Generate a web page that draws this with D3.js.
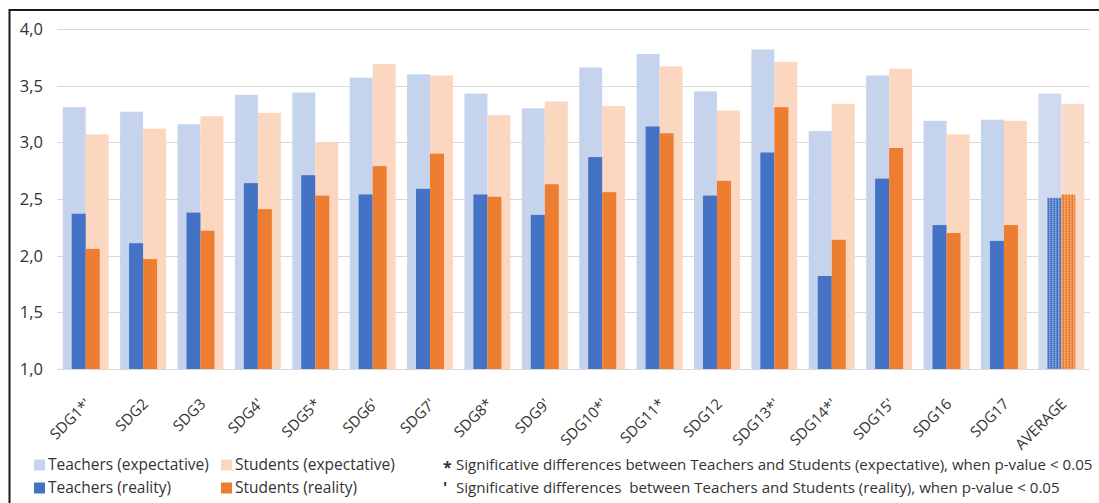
<!DOCTYPE html>
<html>
<head>
<meta charset="utf-8">
<script src="https://cdn.jsdelivr.net/npm/d3@7"></script>
<style>
  html, body { margin: 0; padding: 0; background: #fff; }
  svg { display: block; }
  text { font-family: "Open Sans", "Noto Sans", sans-serif; fill: #333; }
</style>
</head>
<body>
<svg id="chart" width="1099" height="503"></svg>
<script>
// SDG perception scores: expected vs. perceived reality, teachers and students
const categories = ["SDG1*'", "SDG2", "SDG3", "SDG4'", "SDG5*", "SDG6'", "SDG7'", "SDG8*", "SDG9'",
  "SDG10*'", "SDG11*", "SDG12", "SDG13*'", "SDG14*'", "SDG15'", "SDG16", "SDG17", "AVERAGE"];
const teachersExpectative = [3.31, 3.27, 3.16, 3.42, 3.44, 3.57, 3.60, 3.43, 3.30, 3.66, 3.78, 3.45, 3.82, 3.10, 3.59, 3.19, 3.20, 3.43];
const studentsExpectative = [3.07, 3.12, 3.23, 3.26, 3.00, 3.69, 3.59, 3.24, 3.36, 3.32, 3.67, 3.28, 3.71, 3.34, 3.65, 3.07, 3.19, 3.34];
const teachersReality     = [2.37, 2.11, 2.38, 2.64, 2.71, 2.54, 2.59, 2.54, 2.36, 2.87, 3.14, 2.53, 2.91, 1.82, 2.68, 2.27, 2.13, 2.51];
const studentsReality     = [2.06, 1.97, 2.22, 2.41, 2.53, 2.79, 2.90, 2.52, 2.63, 2.56, 3.08, 2.66, 3.31, 2.14, 2.95, 2.20, 2.27, 2.54];
const yTicks = [1.0, 1.5, 2.0, 2.5, 3.0, 3.5, 4.0];
const legendItems = ["Teachers (expectative)", "Students (expectative)", "Teachers (reality)", "Students (reality)"];
const footnotes = [
  { mark: "*", text: "Significative differences between Teachers and Students (expectative), when p-value < 0.05" },
  { mark: "'", text: "Significative differences\u00a0 between Teachers and Students (reality), when p-value < 0.05" }
];

const colors = {
  teachersExp: "#c5d3ec",
  studentsExp: "#fbd7bf",
  teachersReal: "#4472c4",
  studentsReal: "#ed7d31"
};

const svg = d3.select("#chart");
const plot = { left: 57, right: 1090, top: 29, bottom: 369 };

const locale = d3.formatLocale({ decimal: ",", thousands: ".", grouping: [3], currency: ["", "€"] });
const fmt = locale.format(".1f");

const x = d3.scaleBand().domain(categories).range([plot.left, plot.right])
  .paddingInner(0.2).paddingOuter(0.1);
const y = d3.scaleLinear().domain([1, 4]).range([plot.bottom, plot.top]);

// expectative bars fill the band, reality bars are narrower and centred
const xExp = d3.scaleBand().domain(["t", "s"]).range([0, x.bandwidth()]);
const realHalf = x.bandwidth() * 0.305;
const xReal = d3.scaleBand().domain(["t", "s"])
  .range([x.bandwidth() / 2 - realHalf, x.bandwidth() / 2 + realHalf]);

// hatched fills used for the AVERAGE column
const defs = svg.append("defs");
function checker(id, a, b) {
  const p = defs.append("pattern").attr("id", id).attr("patternUnits", "userSpaceOnUse")
    .attr("width", 2).attr("height", 2);
  p.append("rect").attr("width", 2).attr("height", 2).attr("fill", b);
  p.append("rect").attr("width", 1).attr("height", 1).attr("fill", a);
  p.append("rect").attr("x", 1).attr("y", 1).attr("width", 1).attr("height", 1).attr("fill", a);
}
function stripes(id, a, b) {
  const p = defs.append("pattern").attr("id", id).attr("patternUnits", "userSpaceOnUse")
    .attr("width", 3).attr("height", 2);
  p.append("rect").attr("width", 3).attr("height", 2).attr("fill", a);
  p.append("rect").attr("x", 2).attr("width", 1).attr("height", 1).attr("fill", b);
  p.append("rect").attr("x", 2).attr("y", 1).attr("width", 1).attr("height", 1).attr("fill", d3.interpolateRgb(a, b)(0.5));
}
checker("avgTeachersExp", "#b8c8e7", "#e6ecf7");
checker("avgStudentsExp", "#f6cbae", "#fcebdf");
stripes("avgTeachersReal", "#4472c4", "#b4c6ea");
stripes("avgStudentsReal", "#ed7d31", "#f8c7a4");

// outer frame
svg.append("rect").attr("x", 9.5).attr("y", 10).attr("width", 1100).attr("height", 510)
  .attr("fill", "none").attr("stroke", "#1a1a1a").attr("stroke-width", 2);

// gridlines
svg.append("g").selectAll("line").data(yTicks).join("line")
  .attr("x1", plot.left).attr("x2", plot.right)
  .attr("y1", d => Math.round(y(d)) + 0.5).attr("y2", d => Math.round(y(d)) + 0.5)
  .attr("stroke", "#d9d9d9").attr("stroke-width", 1);

// y axis labels
const yAxis = d3.axisLeft(y).tickValues(yTicks).tickFormat(fmt).tickSize(0).tickPadding(0);
const yg = svg.append("g").attr("transform", `translate(43,0)`).call(yAxis);
yg.select(".domain").remove();
yg.selectAll("text").attr("font-size", 16.5).attr("fill", "#333")
  .style("font-family", "'Open Sans', sans-serif").attr("dy", "0.34em");

const isAvg = c => c === "AVERAGE";
const rows = categories.map((c, i) => ({
  c, te: teachersExpectative[i], se: studentsExpectative[i],
  tr: teachersReality[i], sr: studentsReality[i]
}));

const groups = svg.append("g").selectAll("g").data(rows).join("g")
  .attr("transform", d => `translate(${x(d.c)},0)`);

function bars(key, sub, scale, fill, avgFill) {
  groups.append("rect")
    .attr("x", scale(sub)).attr("width", scale.bandwidth())
    .attr("y", d => y(d[key])).attr("height", d => y(1) - y(d[key]))
    .attr("fill", d => isAvg(d.c) ? `url(#${avgFill})` : fill);
}
bars("te", "t", xExp, colors.teachersExp, "avgTeachersExp");
bars("se", "s", xExp, colors.studentsExp, "avgStudentsExp");
bars("tr", "t", xReal, colors.teachersReal, "avgTeachersReal");
bars("sr", "s", xReal, colors.studentsReal, "avgStudentsReal");

// rotated category labels
const xAxis = d3.axisBottom(x).tickSize(0).tickPadding(0);
const xg = svg.append("g").attr("transform", `translate(0,${plot.bottom})`).call(xAxis);
xg.select(".domain").remove();
xg.selectAll("text")
  .attr("font-size", 15).attr("fill", "#333")
  .style("font-family", "'Open Sans', sans-serif")
  .attr("text-anchor", "end").attr("y", 0).attr("dy", 0)
  .attr("transform", "translate(6,36) rotate(-45)");

// legend
const legend = svg.append("g");
const legendPos = [[34, 465], [221, 465], [34, 488], [221, 488]];
const legendColors = [colors.teachersExp, colors.studentsExp, colors.teachersReal, colors.studentsReal];
legendItems.forEach((name, i) => {
  const [lx, ly] = legendPos[i];
  legend.append("rect").attr("x", lx).attr("y", ly - 5.5).attr("width", 11).attr("height", 11)
    .attr("fill", legendColors[i]);
  legend.append("text").attr("x", lx + 14).attr("y", ly).attr("dy", "0.35em")
    .attr("font-size", 15.5).text(name);
});

// significance notes
const notes = svg.append("g");
footnotes.forEach((f, i) => {
  const ly = 465 + i * 23;
  notes.append("text").attr("x", 443).attr("y", ly + (i === 0 ? 2 : 0)).attr("dy", "0.35em")
    .attr("font-size", 16).attr("font-weight", "bold").text(f.mark);
  notes.append("text").attr("x", 456).attr("y", ly).attr("dy", "0.35em")
    .attr("font-size", 15.1).text(f.text);
});
</script>
</body>
</html>
